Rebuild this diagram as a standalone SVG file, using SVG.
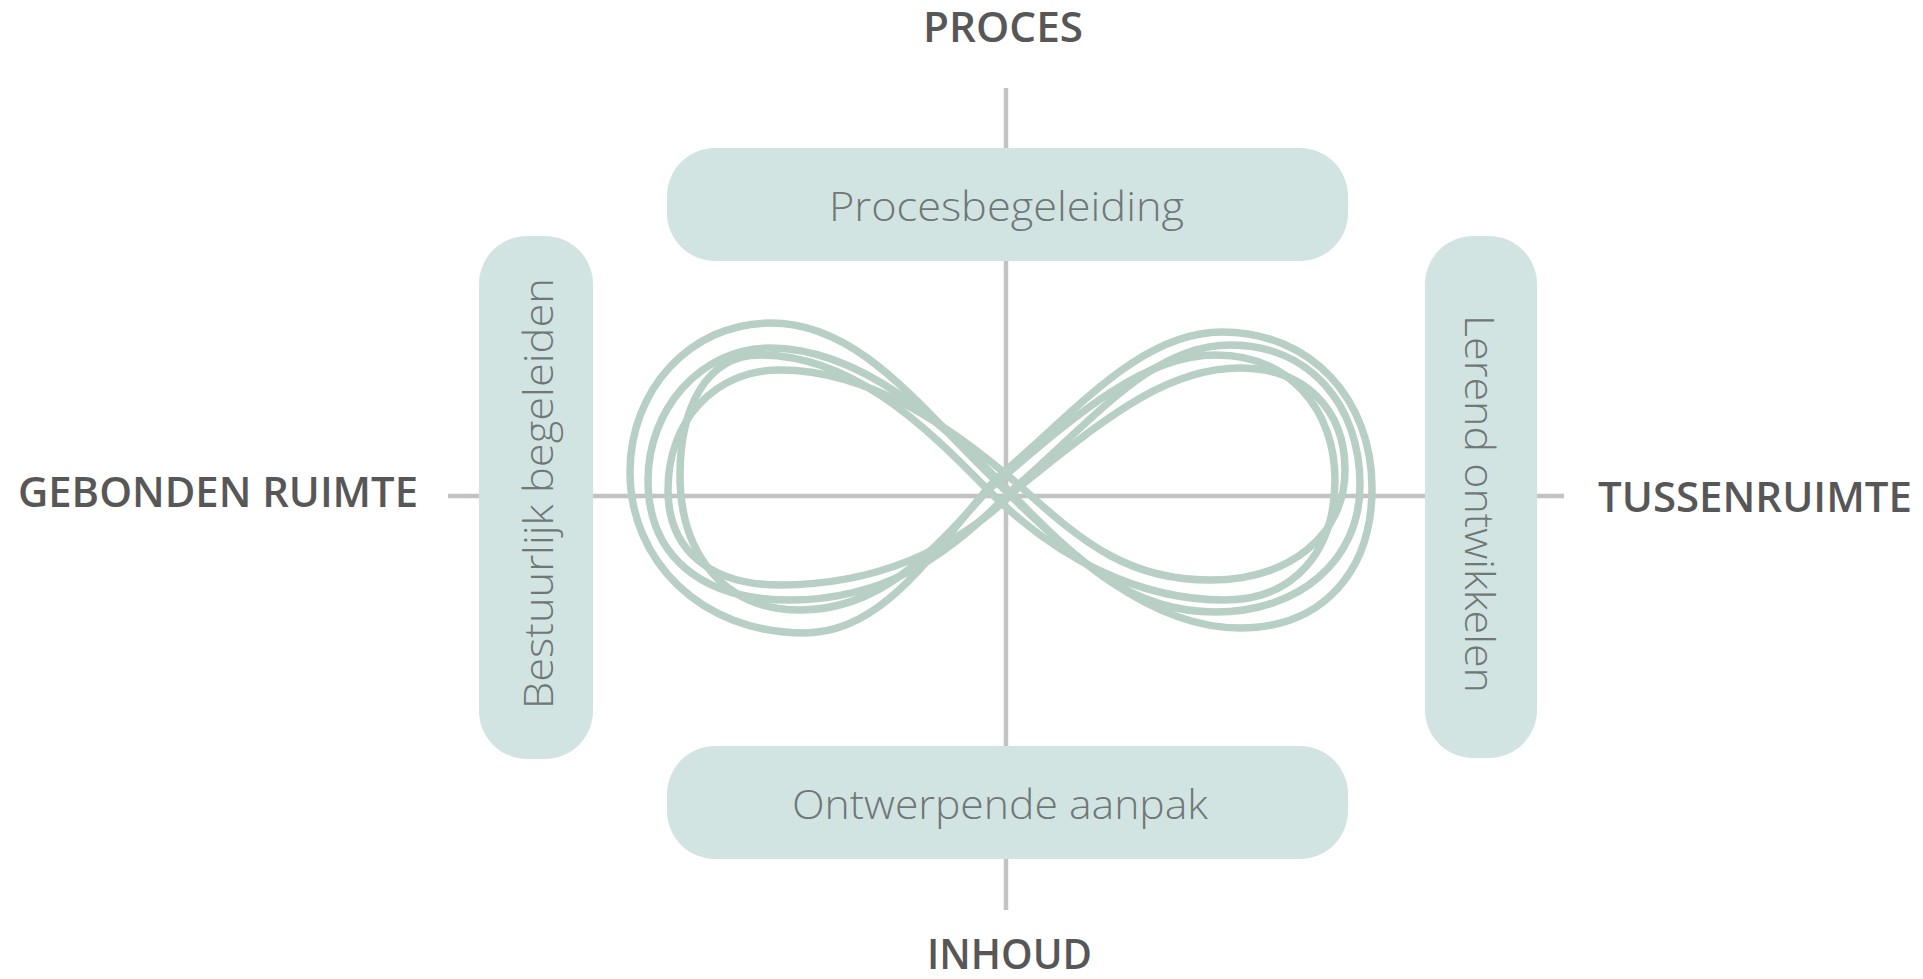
<svg xmlns="http://www.w3.org/2000/svg" width="1923" height="979" viewBox="0 0 1923 979">
  <style>
    .axis { stroke: #c3c3c3; stroke-width: 4.5; fill: none; }
    .box { fill: #d2e4e2; }
    .boxtxt { font-family: "Open Sans", "Noto Sans", "DejaVu Sans", sans-serif; font-weight: 300; font-size: 41px; fill: #6f7777; }
    .head { font-family: "Open Sans", "Noto Sans", "DejaVu Sans", sans-serif; font-weight: 600; font-size: 41px; fill: #575757; }
    .loop { fill: none; stroke: #b7cfc5; stroke-width: 7.5; stroke-linecap: round; stroke-linejoin: round; }
  </style>
  <rect width="1923" height="979" fill="#ffffff"/>

  <g id="connectors">
    <line class="axis" x1="1006" y1="88" x2="1006" y2="910"/>
    <line class="axis" x1="448" y1="496" x2="1564" y2="496"/>
  </g>

  <g id="infinity">
    <path class="loop" d="M995,480 C1075,412 1140,332 1222,332 C1312,332 1372,400 1372,488 C1372,572 1322,628 1240,628 C1150,628 1070,556 995,480 C920,408 860,323 771,323 C690,323 630,390 630,472 C630,560 700,633 805,633 C885,633 935,548 995,480 Z"/>
    <path class="loop" d="M1010,492 C1090,424 1150,345 1230,345 C1310,345 1360,405 1360,485 C1360,560 1300,612 1215,612 C1130,612 1078,562 1010,492 C945,425 862,348 770,348 C700,348 648,410 648,480 C648,555 700,600 790,600 C880,600 945,560 1010,492 Z"/>
    <path class="loop" d="M1020,486 C1098,425 1162,368 1240,368 C1305,368 1345,410 1345,470 C1345,535 1290,580 1210,580 C1130,580 1085,545 1020,486 C955,430 872,370 780,370 C715,370 668,420 668,490 C668,550 710,585 780,585 C870,585 955,553 1020,486 Z"/>
    <path class="loop" d="M988,490 C1068,422 1140,355 1215,355 C1290,355 1335,410 1335,480 C1335,550 1295,600 1225,600 C1140,600 1058,560 988,490 C922,422 850,355 760,355 C705,355 680,410 680,475 C680,555 725,610 800,610 C880,610 930,555 988,490 Z"/>
  </g>

  <g id="node-proces">
    <rect class="box" x="667" y="148" width="681" height="113" rx="48" ry="48"/>
    <text class="boxtxt" x="829" y="221" textLength="355" lengthAdjust="spacingAndGlyphs">Procesbegeleiding</text>
  </g>

  <g id="node-ontwerp">
    <rect class="box" x="667" y="746" width="681" height="113" rx="48" ry="48"/>
    <text class="boxtxt" x="792" y="819" textLength="416" lengthAdjust="spacingAndGlyphs">Ontwerpende aanpak</text>
  </g>

  <g id="node-bestuurlijk">
    <rect class="box" x="479" y="236" width="114" height="523" rx="48" ry="48"/>
    <text class="boxtxt" transform="translate(553,709) rotate(-90)" x="0" y="0" textLength="431" lengthAdjust="spacingAndGlyphs">Bestuurlijk begeleiden</text>
  </g>

  <g id="node-lerend">
    <rect class="box" x="1425" y="236" width="112" height="522" rx="48" ry="48"/>
    <text class="boxtxt" transform="translate(1465,315) rotate(90)" x="0" y="0" textLength="378" lengthAdjust="spacingAndGlyphs">Lerend ontwikkelen</text>
  </g>

  <g id="label-proces">
    <text class="head" x="923" y="42" textLength="160" lengthAdjust="spacingAndGlyphs">PROCES</text>
  </g>
  <g id="label-inhoud">
    <text class="head" x="927" y="969" textLength="165" lengthAdjust="spacingAndGlyphs">INHOUD</text>
  </g>
  <g id="label-gebonden">
    <text class="head" x="18" y="507" textLength="400" lengthAdjust="spacingAndGlyphs">GEBONDEN RUIMTE</text>
  </g>
  <g id="label-tussen">
    <text class="head" x="1598" y="512" textLength="314" lengthAdjust="spacingAndGlyphs">TUSSENRUIMTE</text>
  </g>
</svg>
